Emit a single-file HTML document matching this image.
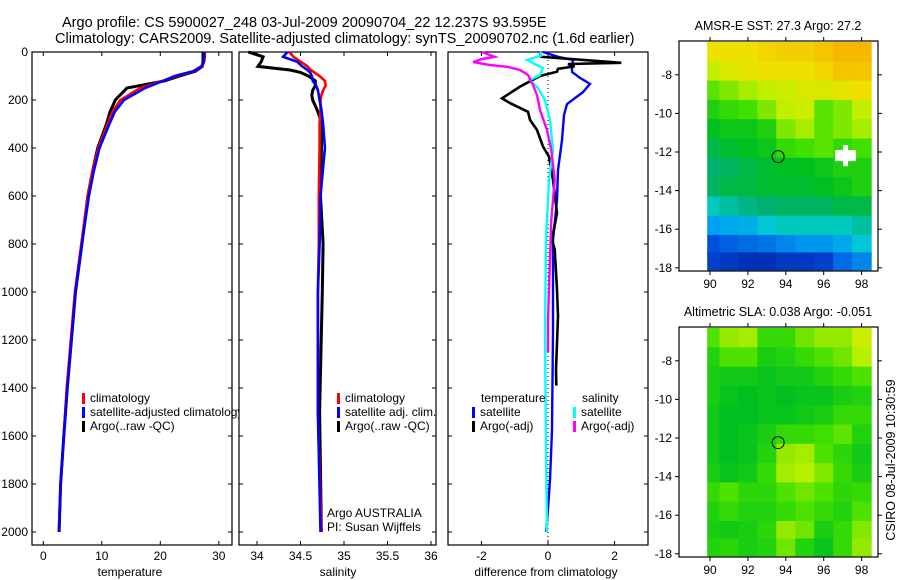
<!DOCTYPE html>
<html><head><meta charset="utf-8"><style>
html,body{margin:0;padding:0;background:#fff;}
svg{display:block;font-family:"Liberation Sans",sans-serif;}
</style></head><body>
<svg id="fig" width="900" height="580" viewBox="0 0 900 580" xmlns="http://www.w3.org/2000/svg">
<rect width="900" height="580" fill="#fff"/>
<text x="62" y="27" font-size="14.5">Argo profile: CS 5900027_248 03-Jul-2009 20090704_22 12.237S 93.595E</text>
<text x="55" y="43" font-size="14.5">Climatology: CARS2009. Satellite-adjusted climatology: synTS_20090702.nc (1.6d earlier)</text>
<g id="layer"></g>
</svg>
<script>
// ---------- data ----------
const tDepth = [0,20,40,60,80,100,120,150,200,250,300,400,500,600,800,1000,1200,1400,1600,1800,2000];
const tClim  = [27.6,27.6,27.5,27.2,25.8,22.8,20.5,16.6,13.2,11.8,11.0,9.4,8.4,7.6,6.5,5.4,4.7,4.0,3.5,2.95,2.65];
const tSat   = [27.5,27.5,27.4,27.0,25.6,22.5,20.5,17.4,13.8,12.2,11.3,9.6,8.6,7.8,6.6,5.5,4.8,4.1,3.5,2.95,2.7];
const tArgo  = [27.3,27.3,27.3,27.2,26.0,23.3,20.8,14.3,12.3,11.4,10.8,9.3,8.4,7.6,6.6,5.5,4.8,4.1,3.5,2.95,2.7];

const sDepth = [0,20,40,60,75,85,100,120,140,160,180,200,240,300,400,600,800,1000,1500,2000];
const sClim  = [34.37,34.42,34.5,34.58,34.62,34.66,34.72,34.78,34.79,34.76,34.74,34.73,34.73,34.72,34.72,34.71,34.71,34.7,34.7,34.74];
const sSat   = [34.35,34.3,34.46,34.52,34.58,34.61,34.63,34.64,34.68,34.7,34.71,34.72,34.74,34.76,34.78,34.73,34.72,34.7,34.7,34.73];
const sArgo  = [33.9,34.07,34.05,34.01,34.38,34.5,34.59,34.67,34.67,34.64,34.63,34.64,34.69,34.75,34.74,34.73,34.76,34.75,34.72,34.74];

const dTSatDepth = [0,20,33,60,83,108,133,167,217,263,367,492,617,783,1158,1575,1783,2000];
const dTSat      = [-0.15,0.3,0.75,0.72,0.72,0.96,1.26,1.05,0.57,0.48,0.42,0.3,0.27,0.15,0.15,0.12,0.06,-0.05];
const dTArgoDepth = [0,20,45,50,60,70,82,100,144,193,213,249,283,325,394,436,533,671,783,823,990,1100,1325,1390];
const dTArgo      = [-0.25,-0.2,2.2,0.6,0.8,0.3,0.27,-0.24,-0.84,-1.38,-1.14,-0.6,-0.54,-0.33,-0.15,0.03,0.15,0.27,0.12,0.2,0.27,0.3,0.24,0.25];
const dSSatDepth = [0,15,33,50,67,96,117,150,200,283,408,470,533,620,783,1158,1658,2000];
const dSSat      = [-0.24,-0.2,-0.63,-0.4,-0.15,-0.24,-0.54,-0.3,-0.09,0.06,0.15,0.09,0.03,0.0,-0.06,-0.09,-0.06,-0.03];
const dSArgoDepth = [0,10,20,30,42,54,62,75,96,138,180,242,325,408,533,700,900,1117,1250];
const dSArgo      = [-1.98,-1.8,-1.6,-2.0,-2.25,-1.74,-1.2,-0.84,-0.6,-0.45,-0.33,-0.24,-0.03,0.1,0.2,0.1,0.05,0.0,0.0];

const depthTicks = [0,200,400,600,800,1000,1200,1400,1600,1800,2000];
const tempTicks = [0,10,20,30];
const salTicks = [34,34.5,35,35.5,36];
const salTickLabels = ["34","34.5","35","35.5","36"];
const diffTicks = [-2,0,2];

const mapLons = [90,91,92,93,94,95,96,97,98];
const mapLats = [-6.8,-7.8,-8.8,-9.8,-10.8,-11.8,-12.8,-13.8,-14.8,-15.8,-16.8,-17.7];
const lonTicks = [90,92,94,96,98];
const latTicks = [-8,-10,-12,-14,-16,-18];
const sstGrid = [
[27.8,27.8,27.8,27.84,27.86,27.86,27.9,27.94,27.94],
[27.6,27.7,27.76,27.8,27.8,27.8,27.84,27.9,27.9],
[27.44,27.5,27.56,27.6,27.64,27.7,27.7,27.76,27.8],
[27.3,27.36,27.4,27.5,27.6,27.64,27.44,27.5,27.6],
[27.2,27.24,27.24,27.3,27.5,27.56,27.44,27.5,27.56],
[27.1,27.16,27.2,27.24,27.36,27.4,27.44,27.36,27.4],
[27.0,27.04,27.1,27.16,27.2,27.2,27.24,27.3,27.3],
[27.04,27.1,27.12,27.16,27.16,27.16,27.2,27.24,27.3],
[26.84,26.9,26.96,27.0,27.04,27.04,27.04,27.1,27.1],
[26.6,26.64,26.66,26.76,26.84,26.84,26.84,26.84,26.9],
[26.3,26.36,26.4,26.44,26.5,26.56,26.56,26.64,26.76],
[26.2,26.16,26.1,26.1,26.16,26.16,26.2,26.4,26.5]];
const slaGrid = [
[0.0,0.04,0.05,-0.02,-0.02,0.02,0.04,0.04,0.08],
[-0.04,0.0,0.0,-0.05,-0.04,-0.02,0.0,0.02,0.06],
[-0.05,-0.06,-0.06,-0.07,-0.06,-0.06,-0.04,-0.02,0.0],
[-0.05,-0.07,-0.08,-0.07,-0.08,-0.07,-0.07,-0.05,-0.04],
[-0.06,-0.08,-0.08,-0.07,-0.07,-0.06,-0.05,-0.02,-0.02],
[-0.06,-0.08,-0.07,-0.05,-0.02,-0.02,-0.01,0.01,-0.04],
[-0.06,-0.08,-0.07,-0.04,0.04,0.05,0.0,-0.03,-0.06],
[-0.05,-0.07,-0.06,-0.02,0.05,0.06,0.03,-0.02,-0.05],
[-0.02,0.0,-0.03,-0.03,0.0,0.02,0.0,-0.03,-0.02],
[-0.04,-0.02,-0.04,-0.04,-0.02,0.0,-0.02,-0.04,0.0],
[-0.05,-0.06,-0.05,-0.03,0.04,0.02,-0.05,-0.02,0.03],
[-0.04,-0.03,-0.05,-0.04,0.02,-0.04,-0.07,-0.02,0.04]];
const argoLon = 93.595, argoLat = -12.237;

// ---------- helpers ----------
const NS = "http://www.w3.org/2000/svg";
const layer = document.getElementById('layer');
function mk(tag, attrs, parent){ const e=document.createElementNS(NS,tag); for(const k in attrs) e.setAttribute(k,attrs[k]); (parent||layer).appendChild(e); return e; }
const yD = d => 52 + d*0.24;
const xT = t => 43.3 + t*5.85;
const xS = s => 257 + (s-34)*87;
const xDf = v => 548 + v*33.3;

function axesBox(x0,x1,name){
  const r=mk('rect',{x:x0,y:52,width:x1-x0,height:493,fill:'#fff',stroke:'#000','stroke-width':1.2});
  
  
  depthTicks.forEach(d=>{
    mk('line',{x1:x0,x2:x0+4,y1:yD(d),y2:yD(d),stroke:'#000'});
    mk('line',{x1:x1,x2:x1-4,y1:yD(d),y2:yD(d),stroke:'#000'});
  });
}
function xTicks(vals,labels,fx,nm){
  vals.forEach((v,i)=>{
    mk('line',{x1:fx(v),x2:fx(v),y1:52,y2:56,stroke:'#000'});
    mk('line',{x1:fx(v),x2:fx(v),y1:545,y2:541,stroke:'#000'});
    const t=mk('text',{x:fx(v),y:560,'font-size':12,'text-anchor':'middle'}); t.textContent=labels[i];
    
    
  });
}
function line(xs,ds,fx,color,nm,w){
  const pts=xs.map((v,i)=>fx(v).toFixed(1)+','+yD(ds[i]).toFixed(1)).join(' ');
  const p=mk('polyline',{points:pts,fill:'none',stroke:color,'stroke-width':w||2.6,'stroke-linejoin':'miter'});
  
  
}
function label(x,y,txt,nm,extra){
  const t=mk('text',Object.assign({x:x,y:y,'font-size':12},extra||{})); t.textContent=txt;
  
  
  return t;
}
function legend(x,y,color,txt,nm){
  const b=mk('rect',{x:x,y:y-9,width:3,height:11,fill:color});
  
  
  label(x+8,y,txt,nm);
}

// ---------- panel 1: temperature ----------
axesBox(32,232,'temperature-axes');
depthTicks.forEach(d=>{ label(28,yD(d)+4,String(d),'depth-tick-label',{'text-anchor':'end'}); });
xTicks(tempTicks,tempTicks.map(String),xT,'temperature');
label(130,576,'temperature','temperature-axis-title',{'text-anchor':'middle'});
line(tArgo,tDepth,xT,'#000','argo-temperature-line',3);
line(tClim,tDepth,xT,'#f00','climatology-temperature-line');
line(tSat,tDepth,xT,'#00f','satellite-temperature-line');
legend(82,402,'#f00','climatology','legend-climatology');
legend(82,416,'#00f','satellite-adjusted climatology','legend-satellite-adjusted');
legend(82,430,'#000','Argo(..raw -QC)','legend-argo-raw');

// ---------- panel 2: salinity ----------
axesBox(239,436,'salinity-axes');
xTicks(salTicks,salTickLabels,xS,'salinity');
label(338,576,'salinity','salinity-axis-title',{'text-anchor':'middle'});
line(sArgo,sDepth,xS,'#000','argo-salinity-line',3);
line(sClim,sDepth,xS,'#f00','climatology-salinity-line');
line(sSat,sDepth,xS,'#00f','satellite-salinity-line');
legend(337,402,'#f00','climatology','legend-sal-climatology');
legend(337,416,'#00f','satellite adj. clim.','legend-sal-satellite');
legend(337,430,'#000','Argo(..raw -QC)','legend-sal-argo');
label(327,517,'Argo AUSTRALIA','argo-australia-label');
label(327,531,'PI: Susan Wijffels','pi-label');

// ---------- panel 3: differences ----------
axesBox(448,648,'difference-axes');
xTicks(diffTicks,diffTicks.map(String),xDf,'difference');
label(546,576,'difference from climatology','difference-axis-title',{'text-anchor':'middle'});
mk('line',{x1:xDf(0),x2:xDf(0),y1:52,y2:545,stroke:'#000','stroke-dasharray':'1,3'});
line(dTSat,dTSatDepth,xDf,'#00f','temperature-satellite-diff-line',2.4);
line(dTArgo,dTArgoDepth,xDf,'#000','temperature-argo-diff-line',2.6);
line(dSSat,dSSatDepth,xDf,'#0ff','salinity-satellite-diff-line',2.4);
line(dSArgo,dSArgoDepth,xDf,'#f0f','salinity-argo-diff-line',2.4);
label(481,402,'temperature','legend-temperature-heading');
label(582,402,'salinity','legend-salinity-heading');
legend(472,416,'#00f','satellite','legend-temp-satellite');
legend(472,430,'#000','Argo(-adj)','legend-temp-argo');
legend(573,416,'#0ff','satellite','legend-sal-satellite-diff');
legend(573,430,'#f0f','Argo(-adj)','legend-sal-argo-diff');

// ---------- maps ----------
const cmapStops=[[0,[0,32,160]],[0.15,[0,80,224]],[0.3,[0,160,240]],[0.4,[0,208,208]],[0.5,[0,176,112]],[0.6,[0,192,32]],[0.7,[64,224,0]],[0.8,[192,240,0]],[0.9,[240,224,0]],[1,[248,168,0]]];
function cmap(v){
  v=Math.max(0,Math.min(1,v));
  for(let i=1;i<cmapStops.length;i++){
    if(v<=cmapStops[i][0]){
      const a=cmapStops[i-1],b=cmapStops[i],f=(v-a[0])/(b[0]-a[0]);
      const c=a[1].map((x,k)=>Math.round(x+(b[1][k]-x)*f));
      return 'rgb('+c.join(',')+')';
    }
  }
  return 'rgb(248,168,0)';
}
function drawMap(top,grid,norm,title,nm){
  const bx0=679,bx1=878,by0=top,by1=top+230;
  const xL = lon => 710 + (lon-90)*18.95;
  const yL = lat => top + 1 + (-6.3-lat)*19.3;
  label(778,top-11,title,nm+'-title',{'text-anchor':'middle','font-size':12.5});
  const bg=mk('rect',{x:bx0,y:by0,width:bx1-bx0,height:by1-by0,fill:'#fff'});
  
  
  grid.forEach((row,r)=>{
    row.forEach((v,c)=>{
      const lat=mapLats[r], lon=mapLons[c];
      const x0=Math.max(xL(lon-0.5),xL(89.85)), x1=Math.min(xL(lon+0.5),xL(98.85));
      const y0=Math.max(yL(lat+0.5),yL(-6.3)), y1=Math.min(yL(lat-0.5),yL(-18.1));
      const cell=mk('rect',{x:x0.toFixed(1),y:y0.toFixed(1),width:(x1-x0+0.6).toFixed(1),height:(y1-y0+0.6).toFixed(1),fill:cmap(norm(v))});
      
      
    });
  });
  const box=mk('rect',{x:bx0,y:by0,width:bx1-bx0,height:by1-by0,fill:'none',stroke:'#000','stroke-width':1.2});
  
  
  lonTicks.forEach(l=>{
    mk('line',{x1:xL(l),x2:xL(l),y1:by1,y2:by1+4,stroke:'#000'});
    mk('line',{x1:xL(l),x2:xL(l),y1:by0,y2:by0-4,stroke:'#000'});
    label(xL(l),by1+17,String(l),nm+'-lon-label',{'text-anchor':'middle'});
  });
  latTicks.forEach(l=>{
    mk('line',{x1:bx0,x2:bx0-4,y1:yL(l),y2:yL(l),stroke:'#000'});
    mk('line',{x1:bx1,x2:bx1+4,y1:yL(l),y2:yL(l),stroke:'#000'});
    label(bx0-7,yL(l)+4,String(l),nm+'-lat-label',{'text-anchor':'end'});
  });
  const m=mk('circle',{cx:xL(argoLon),cy:yL(argoLat),r:6,fill:'none',stroke:'#000','stroke-width':1});
  
  
  return {xL,yL};
}
const m1=drawMap(41,sstGrid,v=>(v-26)/2,'AMSR-E SST: 27.3 Argo: 27.2','sst-map');
const gap=mk('path',{d:'M'+m1.xL(96.6)+','+m1.yL(-11.9)+'h8v-5h5v5h8v11h-8v5h-5v-5h-8z',fill:'#fff'});


drawMap(327,slaGrid,v=>0.6+(v+0.08)/0.16*0.22,'Altimetric SLA: 0.038 Argo: -0.051','sla-map');
label(0,0,'CSIRO 08-Jul-2009 10:30:59','csiro-timestamp',{transform:'translate(895,460) rotate(-90)','text-anchor':'middle','font-size':12.5});
</script>
</body></html>
